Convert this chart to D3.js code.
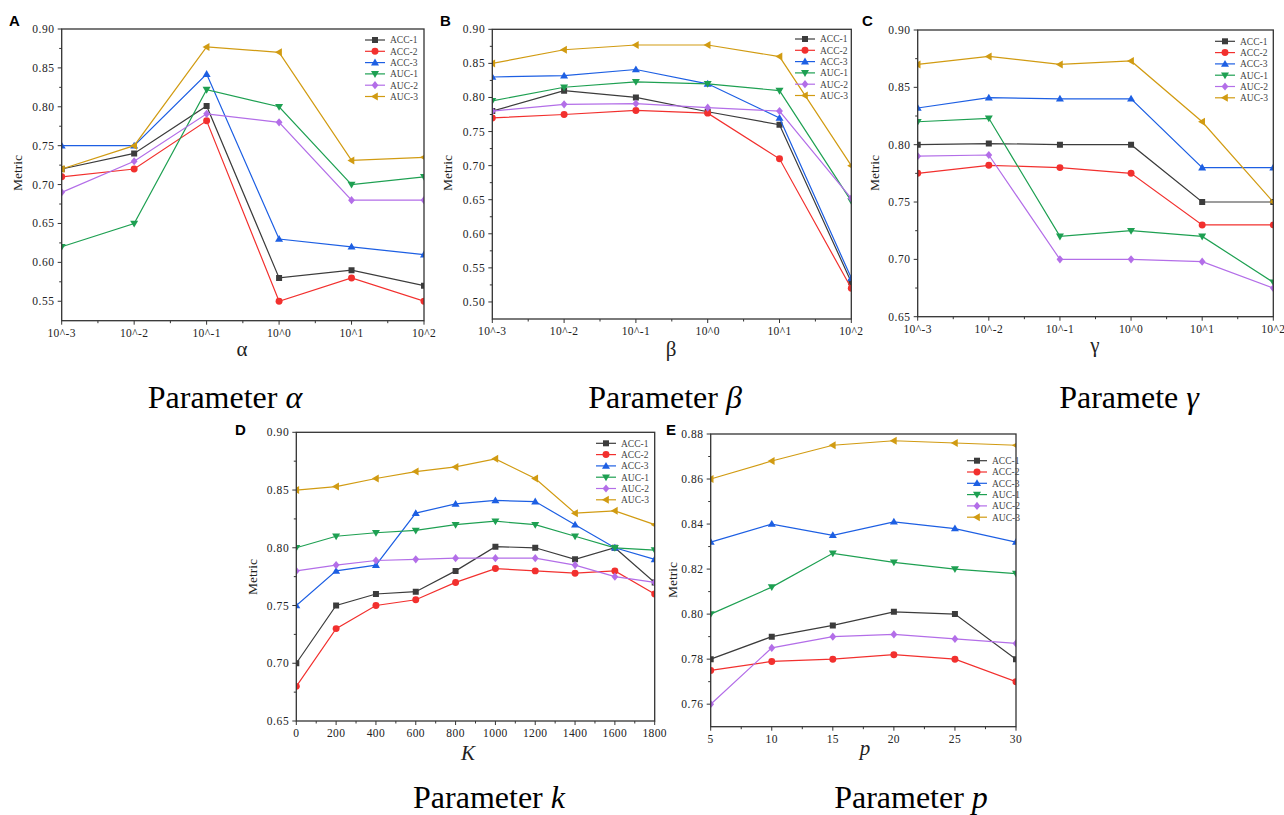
<!DOCTYPE html>
<html>
<head>
<meta charset="utf-8">
<script src="https://cdn.jsdelivr.net/npm/d3@7"></script>
<style>
  body { margin: 0; background: #fff; }
  svg { display: block; }
  .axis text { font-family: "Liberation Serif", serif; font-size: 11.5px; fill: #222; }
  .axis line, .axis path { stroke: #333; }
  .legend text { font-family: "Liberation Serif", serif; font-size: 9.5px; fill: #444; }
</style>
</head>
<body>
<svg id="chart" width="1284" height="815"></svg>
<script>
const seriesNames = ["ACC-1", "ACC-2", "ACC-3", "AUC-1", "AUC-2", "AUC-3"];
const seriesColors = ["#3c3c3c", "#f2302e", "#1d5fe3", "#1ea052", "#b36ee8", "#d19b12"];

const logLabels = ["10^-3", "10^-2", "10^-1", "10^0", "10^1", "10^2"];
const kValues = [0, 200, 400, 600, 800, 1000, 1200, 1400, 1600, 1800];
const pValues = [5, 10, 15, 20, 25, 30];

// one row per series, same order as seriesNames
const alphaSeries = [
  [0.72, 0.74, 0.801, 0.58, 0.59, 0.57],
  [0.71, 0.72, 0.782, 0.55, 0.58, 0.55],
  [0.75, 0.75, 0.842, 0.63, 0.62, 0.61],
  [0.62, 0.65, 0.822, 0.80, 0.70, 0.71],
  [0.69, 0.73, 0.791, 0.78, 0.68, 0.68],
  [0.72, 0.75, 0.877, 0.87, 0.731, 0.735]
];
const betaSeries = [
  [0.78, 0.81, 0.80, 0.779, 0.76, 0.529],
  [0.77, 0.775, 0.781, 0.777, 0.71, 0.52],
  [0.83, 0.832, 0.841, 0.82, 0.77, 0.535],
  [0.795, 0.815, 0.823, 0.82, 0.81, 0.648],
  [0.78, 0.79, 0.791, 0.785, 0.78, 0.652],
  [0.85, 0.87, 0.877, 0.877, 0.86, 0.70]
];
const gammaSeries = [
  [0.80, 0.801, 0.80, 0.80, 0.75, 0.75],
  [0.775, 0.782, 0.78, 0.775, 0.73, 0.73],
  [0.832, 0.841, 0.84, 0.84, 0.78, 0.78],
  [0.82, 0.823, 0.72, 0.725, 0.72, 0.68],
  [0.79, 0.791, 0.70, 0.70, 0.698, 0.675],
  [0.87, 0.877, 0.87, 0.873, 0.82, 0.75]
];
const kSeries = [
  [0.70, 0.75, 0.76, 0.762, 0.78, 0.801, 0.80, 0.79, 0.80, 0.77],
  [0.68, 0.73, 0.75, 0.755, 0.77, 0.782, 0.78, 0.778, 0.78, 0.76],
  [0.75, 0.78, 0.785, 0.83, 0.838, 0.841, 0.84, 0.82, 0.80, 0.79],
  [0.80, 0.81, 0.813, 0.815, 0.82, 0.823, 0.82, 0.81, 0.80, 0.798],
  [0.78, 0.785, 0.789, 0.79, 0.791, 0.791, 0.791, 0.785, 0.775, 0.77],
  [0.85, 0.853, 0.86, 0.866, 0.87, 0.877, 0.86, 0.83, 0.832, 0.82]
];
const pSeries = [
  [0.78, 0.79, 0.795, 0.801, 0.80, 0.78],
  [0.775, 0.779, 0.78, 0.782, 0.78, 0.77],
  [0.832, 0.84, 0.835, 0.841, 0.838, 0.832],
  [0.80, 0.812, 0.827, 0.823, 0.82, 0.818],
  [0.76, 0.785, 0.79, 0.791, 0.789, 0.787],
  [0.86, 0.868, 0.875, 0.877, 0.876, 0.875]
];

const metricTicks = [0.50, 0.55, 0.60, 0.65, 0.70, 0.75, 0.80, 0.85, 0.90];
const pMetricTicks = [0.76, 0.78, 0.80, 0.82, 0.84, 0.86, 0.88];

// marker shapes: square, circle, up, down, diamond, left
function markerPath(i) {
  switch (i) {
    case 0: return "M-3,-3H3V3H-3Z";
    case 1: return d3.symbol(d3.symbolCircle, 38)();
    case 2: return "M0,-4L4,2.8L-4,2.8Z";
    case 3: return "M0,4L4,-2.8L-4,-2.8Z";
    case 4: return "M0,-4.1L3.4,0L0,4.1L-3.4,0Z";
    default: return "M-4.1,0L2.8,-4L2.8,4Z";
  }
}

const svg = d3.select("#chart");

class LinePanel {
  constructor(cfg) {
    this.cfg = cfg;
    this.initVis();
  }

  initVis() {
    let vis = this;
    const c = vis.cfg;

    vis.g = svg.append("g");

    if (c.xLabels) {
      vis.x = d3.scalePoint().domain(c.xLabels).range([c.left, c.right]).padding(0);
      vis.xPos = (d, i) => vis.x(c.xLabels[i]);
      vis.xMajor = c.xLabels.map((d) => vis.x(d));
    } else {
      vis.x = d3.scaleLinear().domain(c.xDomain).range([c.left, c.right]);
      vis.xPos = (d, i) => vis.x(c.xValues[i]);
      vis.xMajor = c.xValues.map((d) => vis.x(d));
    }
    vis.xMinor = d3.pairs(vis.xMajor).map(([a, b]) => (a + b) / 2);

    vis.y = d3.scaleLinear().domain(c.yDomain).range([c.bottom, c.top]);

    // axes
    const yTicks = c.yTicks.filter((t) => t >= c.yDomain[0] - 1e-9 && t <= c.yDomain[1] + 1e-9);
    const yMinor = [];
    for (let i = 0; i <= yTicks.length; i++) {
      const m = (i < yTicks.length ? yTicks[i] : yTicks[i - 1] + c.yStep) - c.yStep / 2;
      if (m > c.yDomain[0] && m < c.yDomain[1]) yMinor.push(m);
    }

    const ax = vis.g.append("g").attr("class", "axis");
    ax.selectAll(".ymaj").data(yTicks).join("line")
      .attr("x1", c.left - 4).attr("x2", c.left)
      .attr("y1", (d) => vis.y(d)).attr("y2", (d) => vis.y(d));
    ax.selectAll(".ymin").data(yMinor).join("line").attr("class", "ymin")
      .attr("x1", c.left - 2.5).attr("x2", c.left)
      .attr("y1", (d) => vis.y(d)).attr("y2", (d) => vis.y(d));
    ax.selectAll(".ylab").data(yTicks).join("text").attr("class", "ylab")
      .attr("x", c.left - 7).attr("y", (d) => vis.y(d) + 4)
      .attr("text-anchor", "end")
      .attr("letter-spacing", "0.6px")
      .text((d) => d.toFixed(2));

    ax.selectAll(".xmaj").data(vis.xMajor).join("line").attr("class", "xmaj")
      .attr("x1", (d) => d).attr("x2", (d) => d)
      .attr("y1", c.bottom).attr("y2", c.bottom + 4);
    ax.selectAll(".xmin").data(vis.xMinor).join("line").attr("class", "xmin")
      .attr("x1", (d) => d).attr("x2", (d) => d)
      .attr("y1", c.bottom).attr("y2", c.bottom + 2.5);
    ax.selectAll(".xlab").data(c.xLabels || c.xValues).join("text").attr("class", "xlab")
      .attr("x", (d, i) => vis.xMajor[i]).attr("y", c.bottom + 16)
      .attr("text-anchor", "middle")
      .attr("letter-spacing", "0.4px")
      .text((d) => d);

    // clip to frame
    const clipId = "clip-" + c.letter;
    vis.g.append("clipPath").attr("id", clipId)
      .append("rect")
      .attr("x", c.left).attr("y", c.top)
      .attr("width", c.right - c.left).attr("height", c.bottom - c.top);

    const plot = vis.g.append("g").attr("clip-path", `url(#${clipId})`);
    const line = d3.line().x(vis.xPos).y((d) => vis.y(d));

    c.series.forEach((vals, si) => {
      const sg = plot.append("g");
      sg.append("path")
        .attr("d", line(vals))
        .attr("fill", "none")
        .attr("stroke", seriesColors[si])
        .attr("stroke-width", 1.2);
      sg.selectAll("path.mk").data(vals).join("path").attr("class", "mk")
        .attr("d", markerPath(si))
        .attr("transform", (d, i) => `translate(${vis.xPos(d, i)},${vis.y(d)})`)
        .attr("fill", seriesColors[si]);
    });

    vis.g.append("rect")
      .attr("x", c.left).attr("y", c.top)
      .attr("width", c.right - c.left).attr("height", c.bottom - c.top)
      .attr("fill", "none").attr("stroke", "#333").attr("stroke-width", 1.3);

    // legend
    const lg = vis.g.append("g").attr("class", "legend");
    seriesNames.forEach((name, si) => {
      const ly = c.legend[1] + si * 11.3;
      lg.append("line")
        .attr("x1", c.legend[0]).attr("x2", c.legend[0] + 20)
        .attr("y1", ly).attr("y2", ly)
        .attr("stroke", seriesColors[si]).attr("stroke-width", 1.2);
      lg.append("path")
        .attr("d", markerPath(si))
        .attr("transform", `translate(${c.legend[0] + 10},${ly})`)
        .attr("fill", seriesColors[si]);
      lg.append("text")
        .attr("x", c.legend[0] + 25).attr("y", ly + 3.3)
        .text(name);
    });

    // labels
    vis.g.append("text")
      .attr("x", c.letterPos[0]).attr("y", c.letterPos[1])
      .attr("font-family", "Liberation Sans, Arial, sans-serif")
      .attr("font-weight", "bold").attr("font-size", 15)
      .text(c.letter);

    vis.g.append("text")
      .attr("transform", `translate(${c.metricPos[0]},${c.metricPos[1]}) rotate(-90)`)
      .attr("text-anchor", "middle")
      .attr("font-family", "Liberation Serif, serif")
      .attr("font-size", 13.5).attr("fill", "#222")
      .text("Metric");

    vis.g.append("text")
      .attr("x", c.xTitlePos[0]).attr("y", c.xTitlePos[1])
      .attr("text-anchor", "middle")
      .attr("font-family", "Liberation Serif, serif")
      .attr("font-style", c.xTitleItalic ? "italic" : "normal")
      .attr("font-size", 21).attr("fill", "#222")
      .text(c.xTitle);

    const t = vis.g.append("text")
      .attr("x", c.titlePos[0]).attr("y", c.titlePos[1])
      .attr("text-anchor", "middle")
      .attr("font-family", "Liberation Serif, serif")
      .attr("font-size", 32).attr("fill", "#000");
    t.append("tspan").text(c.title[0]);
    t.append("tspan").attr("font-style", "italic").text(c.title[1]);
  }
}

new LinePanel({
  letter: "A", letterPos: [9, 26], left: 61.7, right: 424, top: 29, bottom: 320.7,
  xLabels: logLabels, yDomain: [0.525, 0.90], yTicks: metricTicks, yStep: 0.05,
  series: alphaSeries, legend: [365, 40], metricPos: [22, 173],
  xTitle: "α", xTitlePos: [242, 356], titlePos: [225, 408], title: ["Parameter ", "α"]
});
new LinePanel({
  letter: "B", letterPos: [440, 26], left: 492.3, right: 851.3, top: 29.3, bottom: 319,
  xLabels: logLabels, yDomain: [0.475, 0.90], yTicks: metricTicks, yStep: 0.05,
  series: betaSeries, legend: [795, 39], metricPos: [452, 173],
  xTitle: "β", xTitlePos: [671, 356], titlePos: [665, 408], title: ["Parameter ", "β"]
});
new LinePanel({
  letter: "C", letterPos: [862, 26], left: 917.7, right: 1273.3, top: 30, bottom: 316.7,
  xLabels: logLabels, yDomain: [0.65, 0.90], yTicks: metricTicks, yStep: 0.05,
  series: gammaSeries, legend: [1215, 41.3], metricPos: [879, 173],
  xTitle: "γ", xTitlePos: [1095, 352], titlePos: [1129, 408], title: ["Paramete ", "γ"]
});
new LinePanel({
  letter: "D", letterPos: [235, 435], left: 296.3, right: 654.7, top: 432.3, bottom: 721,
  xValues: kValues, xDomain: [0, 1800], yDomain: [0.65, 0.90], yTicks: metricTicks, yStep: 0.05,
  series: kSeries, legend: [596, 443.3], metricPos: [257, 577],
  xTitle: "K", xTitleItalic: true, xTitlePos: [468, 760], titlePos: [489, 808], title: ["Parameter ", "k"]
});
new LinePanel({
  letter: "E", letterPos: [666, 435], left: 710.7, right: 1016, top: 434, bottom: 726.7,
  xValues: pValues, xDomain: [5, 30], yDomain: [0.75, 0.88], yTicks: pMetricTicks, yStep: 0.02,
  series: pSeries, legend: [967, 460.7], metricPos: [677, 580],
  xTitle: "p", xTitleItalic: true, xTitlePos: [865, 755], titlePos: [911, 808], title: ["Parameter ", "p"]
});
</script>
</body>
</html>
